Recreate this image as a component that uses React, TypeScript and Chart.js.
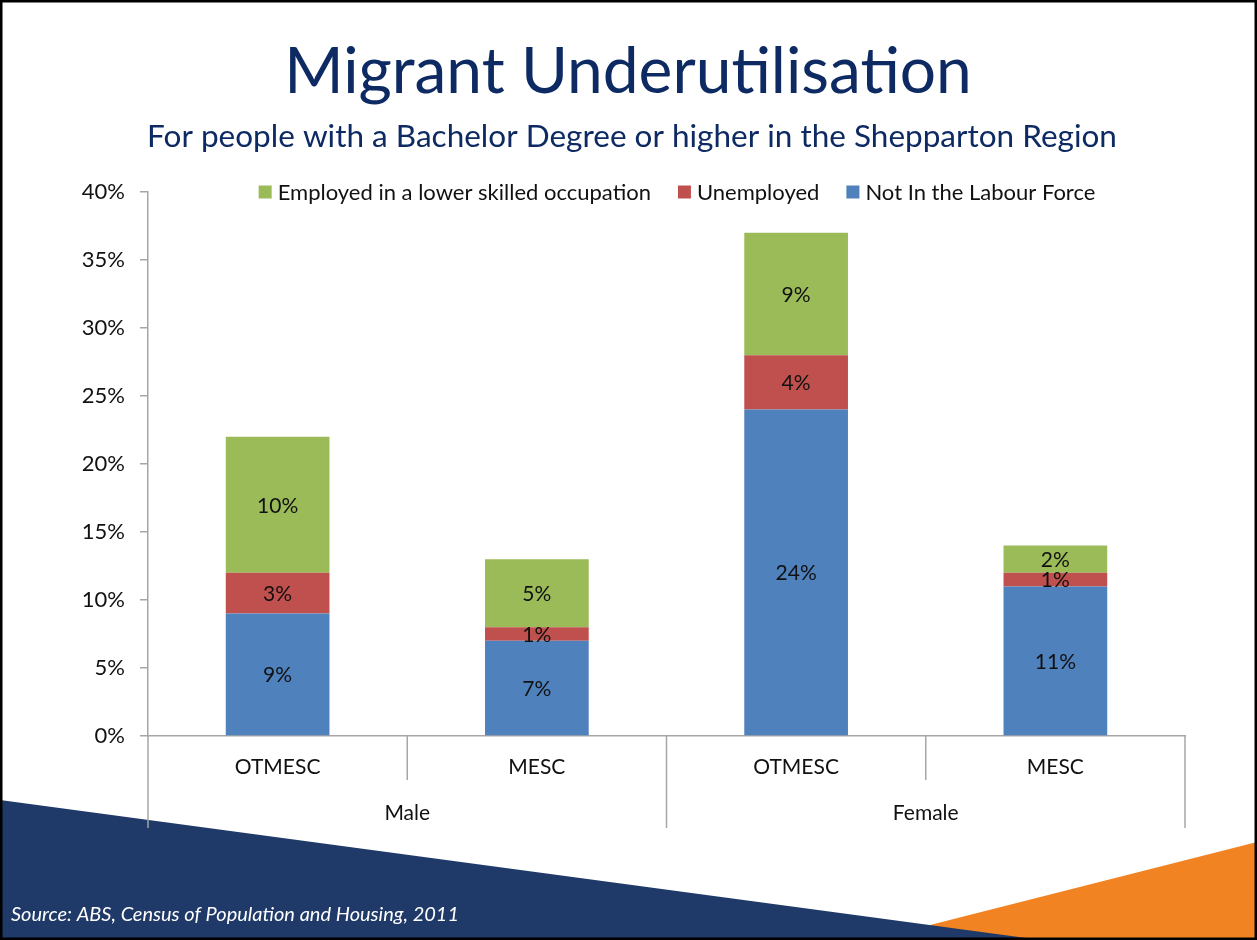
import React, { useEffect, useRef } from "react";
import { Chart, registerables } from "chart.js";

Chart.register(...registerables);

// ---- Data ----
const groups = ["Male", "Female"];
const categories = ["OTMESC", "MESC", "OTMESC", "MESC"];
const notInLabourForce = [9, 7, 24, 11];
const unemployed = [3, 1, 4, 1];
const employedLowerSkilled = [10, 5, 9, 2];
const yMax = 40;
const yStep = 5;

const titleText = "Migrant Underutilisation";
const subtitleText = "For people with a Bachelor Degree or higher in the Shepparton Region";
const sourceText = "Source: ABS, Census of Population and Housing, 2011";

const FONT = "Lato, 'Open Sans', sans-serif";
const AXIS_GRAY = "#A6A6A6";
const TEXT = "#111111";

const decorPlugin = {
  id: "decor",
  beforeDraw(chart: any) {
    const { ctx, width, height } = chart;
    ctx.save();
    ctx.fillStyle = "#ffffff";
    ctx.fillRect(0, 0, width, height);
    // orange triangle
    ctx.fillStyle = "#F28322";
    ctx.beginPath();
    ctx.moveTo(930, 925);
    ctx.lineTo(width, 842);
    ctx.lineTo(width, height);
    ctx.lineTo(870, height);
    ctx.closePath();
    ctx.fill();
    // navy wedge
    ctx.fillStyle = "#1F3A68";
    ctx.beginPath();
    ctx.moveTo(0, 800);
    ctx.lineTo(1041, height);
    ctx.lineTo(0, height);
    ctx.closePath();
    ctx.fill();
    // title & subtitle
    ctx.fillStyle = "#0E2A63";
    ctx.textAlign = "center";
    ctx.textBaseline = "alphabetic";
    ctx.font = `64px ${FONT}`;
    ctx.fillText(titleText, 628, 93);
    ctx.font = `31.5px ${FONT}`;
    ctx.fillText(subtitleText, 632, 147);
    ctx.restore();
  },
  afterDatasetsDraw(chart: any) {
    const { ctx } = chart;
    ctx.save();
    ctx.font = `21px ${FONT}`;
    ctx.fillStyle = TEXT;
    ctx.textAlign = "center";
    ctx.textBaseline = "middle";
    chart.data.datasets.forEach((ds: any, di: number) => {
      const meta = chart.getDatasetMeta(di);
      meta.data.forEach((el: any, i: number) => {
        const v = ds.data[i];
        if (!v) return;
        ctx.fillText(`${v}%`, el.x, (el.y + el.base) / 2 + 1);
      });
    });
    ctx.restore();
  },
  afterDraw(chart: any) {
    const { ctx, chartArea, width, height } = chart;
    const xs = chart.scales.x;
    const n = categories.length;
    const perGroup = n / groups.length;
    ctx.save();
    // category separators
    ctx.strokeStyle = AXIS_GRAY;
    ctx.lineWidth = 1.5;
    for (let i = 0; i <= n; i++) {
      let x: number;
      if (i === 0) x = chartArea.left;
      else if (i === n) x = chartArea.right;
      else x = (xs.getPixelForValue(i - 1) + xs.getPixelForValue(i)) / 2;
      const isGroup = i % perGroup === 0;
      ctx.beginPath();
      ctx.moveTo(x, chartArea.bottom);
      ctx.lineTo(x, chartArea.bottom + (isGroup ? 92 : 44));
      ctx.stroke();
    }
    // group labels
    ctx.font = `21px ${FONT}`;
    ctx.fillStyle = TEXT;
    ctx.textAlign = "center";
    ctx.textBaseline = "middle";
    groups.forEach((g, gi) => {
      const a = xs.getPixelForValue(gi * perGroup);
      const b = xs.getPixelForValue(gi * perGroup + perGroup - 1);
      ctx.fillText(g, (a + b) / 2, chartArea.bottom + 77);
    });
    // legend (reversed order)
    const items = chart.data.datasets
      .map((ds: any) => ({ label: ds.label, color: ds.backgroundColor }))
      .reverse();
    ctx.font = `22px ${FONT}`;
    const box = 13;
    const gapText = 6;
    const gapItem = 27;
    const widths = items.map((it: any) => box + gapText + ctx.measureText(it.label).width);
    const total = widths.reduce((s: number, w: number) => s + w, 0) + gapItem * (items.length - 1);
    let lx = 677 - total / 2;
    const ly = chartArea.top;
    ctx.textAlign = "left";
    items.forEach((it: any, k: number) => {
      ctx.fillStyle = it.color;
      ctx.fillRect(lx, ly - box / 2, box, box);
      ctx.fillStyle = TEXT;
      ctx.fillText(it.label, lx + box + gapText, ly + 1);
      lx += widths[k] + gapItem;
    });
    // source
    ctx.font = `italic 20px ${FONT}`;
    ctx.fillStyle = "#ffffff";
    ctx.textBaseline = "alphabetic";
    ctx.fillText(sourceText, 11, 921);
    // border
    ctx.strokeStyle = "#000000";
    ctx.lineWidth = 2.5;
    ctx.strokeRect(1.25, 1.25, width - 2.5, height - 2.5);
    ctx.restore();
  },
};

export default function App() {
  const canvasRef = useRef<HTMLCanvasElement | null>(null);

  useEffect(() => {
    if (!canvasRef.current) return;
    const chart = new Chart(canvasRef.current, {
      type: "bar",
      data: {
        labels: categories,
        datasets: [
          {
            label: "Not In the Labour Force",
            data: notInLabourForce,
            backgroundColor: "#4F81BD",
          },
          {
            label: "Unemployed",
            data: unemployed,
            backgroundColor: "#C0504D",
          },
          {
            label: "Employed in a lower skilled occupation",
            data: employedLowerSkilled,
            backgroundColor: "#9BBB59",
          },
        ],
      },
      options: {
        responsive: false,
        animation: false,
        devicePixelRatio: 1,
        layout: { padding: { left: 0, right: 72, top: 192, bottom: 0 } },
        datasets: {
          bar: { categoryPercentage: 1, barPercentage: 0.4 },
        },
        plugins: {
          legend: { display: false },
          title: { display: false },
          tooltip: { enabled: false },
        },
        scales: {
          x: {
            stacked: true,
            grid: { display: true, drawOnChartArea: false, drawTicks: false },
            border: { display: true, color: AXIS_GRAY, width: 1.5 },
            ticks: {
              font: { family: FONT, size: 21 },
              color: TEXT,
              padding: 19,
              maxRotation: 0,
            },
            afterFit(scale: any) {
              scale.height = 204;
            },
          },
          y: {
            stacked: true,
            min: 0,
            max: yMax,
            grid: {
              display: true,
              drawOnChartArea: false,
              drawTicks: true,
              tickLength: 8,
              color: AXIS_GRAY,
              lineWidth: 1.5,
            },
            border: { display: true, color: AXIS_GRAY, width: 1.5 },
            ticks: {
              stepSize: yStep,
              font: { family: FONT, size: 22 },
              color: TEXT,
              padding: 15,
              callback: (v: any) => `${v}%`,
            },
            afterFit(scale: any) {
              scale.width = 148;
            },
          },
        },
      },
      plugins: [decorPlugin],
    });
    return () => chart.destroy();
  }, []);

  return (
    <div style={{ position: "absolute", left: 0, top: 0, width: 1257, height: 940 }}>
      <canvas ref={canvasRef} width={1257} height={940} />
    </div>
  );
}
